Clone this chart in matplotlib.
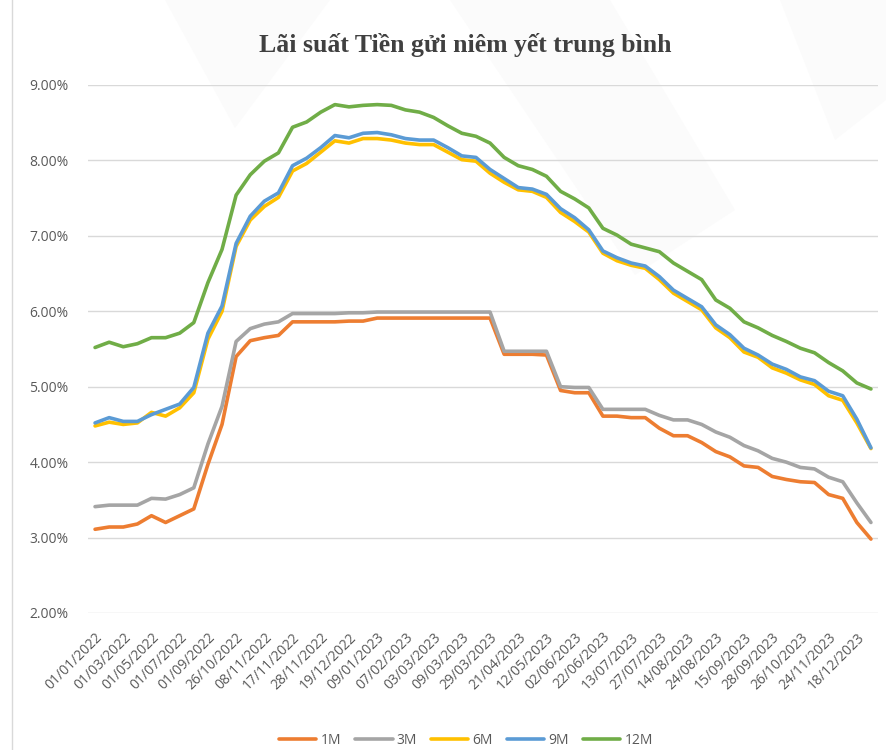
import numpy as np
import matplotlib.pyplot as plt
from matplotlib.ticker import PercentFormatter
from matplotlib.patches import Polygon

# Nhãn trục X (chỉ hiện mỗi 2 điểm dữ liệu)
tick_labels = ["01/01/2022", "01/03/2022", "01/05/2022", "01/07/2022", "01/09/2022",
               "26/10/2022", "08/11/2022", "17/11/2022", "28/11/2022", "19/12/2022",
               "09/01/2023", "07/02/2023", "03/03/2023", "09/03/2023", "29/03/2023",
               "21/04/2023", "12/05/2023", "02/06/2023", "22/06/2023", "13/07/2023",
               "27/07/2023", "14/08/2023", "24/08/2023", "15/09/2023", "28/09/2023",
               "26/10/2023", "24/11/2023", "18/12/2023"]

# Lãi suất (%)
r1m = [3.11, 3.14, 3.14, 3.18, 3.29, 3.20, 3.29, 3.38, 3.97, 4.50,
       5.40, 5.61, 5.65, 5.68, 5.86, 5.86, 5.86, 5.86, 5.87, 5.87,
       5.91, 5.91, 5.91, 5.91, 5.91, 5.91, 5.91, 5.91, 5.91, 5.43,
       5.43, 5.43, 5.42, 4.95, 4.92, 4.92, 4.61, 4.61, 4.59, 4.59,
       4.45, 4.35, 4.35, 4.26, 4.14, 4.07, 3.95, 3.93, 3.81, 3.77,
       3.74, 3.73, 3.57, 3.52, 3.20, 2.98]
r3m = [3.41, 3.43, 3.43, 3.43, 3.52, 3.51, 3.57, 3.66, 4.24, 4.74,
       5.60, 5.77, 5.83, 5.86, 5.97, 5.97, 5.97, 5.97, 5.98, 5.98,
       5.99, 5.99, 5.99, 5.99, 5.99, 5.99, 5.99, 5.99, 5.99, 5.47,
       5.47, 5.47, 5.47, 5.00, 4.99, 4.99, 4.70, 4.70, 4.70, 4.70,
       4.62, 4.56, 4.56, 4.50, 4.40, 4.33, 4.22, 4.15, 4.05, 4.00,
       3.93, 3.91, 3.80, 3.74, 3.46, 3.20]
r6m = [4.48, 4.53, 4.50, 4.52, 4.66, 4.61, 4.72, 4.92, 5.63, 6.00,
       6.86, 7.21, 7.39, 7.51, 7.86, 7.96, 8.11, 8.26, 8.23, 8.29,
       8.29, 8.27, 8.23, 8.21, 8.21, 8.11, 8.01, 7.99, 7.83, 7.71,
       7.61, 7.59, 7.51, 7.31, 7.19, 7.05, 6.77, 6.67, 6.61, 6.57,
       6.42, 6.24, 6.13, 6.02, 5.78, 5.65, 5.46, 5.39, 5.25, 5.18,
       5.09, 5.03, 4.88, 4.82, 4.52, 4.18]
r9m = [4.52, 4.59, 4.54, 4.54, 4.63, 4.70, 4.77, 4.99, 5.71, 6.07,
       6.90, 7.26, 7.46, 7.57, 7.93, 8.03, 8.17, 8.33, 8.30, 8.36,
       8.37, 8.34, 8.29, 8.27, 8.27, 8.17, 8.06, 8.04, 7.88, 7.76,
       7.64, 7.62, 7.55, 7.36, 7.24, 7.08, 6.80, 6.71, 6.64, 6.60,
       6.46, 6.28, 6.17, 6.06, 5.82, 5.69, 5.51, 5.42, 5.30, 5.23,
       5.13, 5.08, 4.94, 4.88, 4.57, 4.19]
r12m = [5.52, 5.59, 5.53, 5.57, 5.65, 5.65, 5.71, 5.85, 6.38, 6.82,
        7.54, 7.81, 7.99, 8.10, 8.44, 8.51, 8.64, 8.74, 8.71, 8.73,
        8.74, 8.73, 8.67, 8.64, 8.57, 8.46, 8.36, 8.32, 8.23, 8.04,
        7.93, 7.88, 7.79, 7.59, 7.49, 7.37, 7.10, 7.01, 6.89, 6.84,
        6.79, 6.64, 6.53, 6.42, 6.15, 6.04, 5.86, 5.78, 5.68, 5.60,
        5.51, 5.45, 5.32, 5.21, 5.05, 4.97]

series = ["1M", "3M", "6M", "9M", "12M"]
colors = ["#ED7D31", "#A5A5A5", "#FFC000", "#5B9BD5", "#70AD47"]

plt.rcParams['font.family'] = ['Open Sans', 'DejaVu Sans']

W, H = 886, 750
fig = plt.figure(figsize=(W / 100, H / 100), dpi=100)

# nền: hình mờ + viền trái
bg = fig.add_axes([0, 0, 1, 1], zorder=-1)
bg.set_xlim(0, W)
bg.set_ylim(H, 0)
bg.axis("off")
for pts in [[(165, 0), (330, 0), (235, 128)],
            [(450, 0), (610, 0), (735, 210), (635, 275)],
            [(780, 0), (886, 0), (886, 100), (835, 140)]]:
    bg.add_patch(Polygon(pts, closed=True, facecolor="#fbfbfb", edgecolor="none"))
bg.plot([12, 12], [0, H], color="#d9d9d9", lw=1)

ax = fig.add_axes([88 / W, 1 - 613 / H, 790 / W, 528 / H])
ax.patch.set_alpha(0)

x = np.arange(len(r1m))
for vals, name, c in zip([r1m, r3m, r6m, r9m, r12m], series, colors):
    ax.plot(x, vals, color=c, lw=2.6, label=name, solid_capstyle="round")

ax.set_xlim(-0.5, len(x) - 0.5)
ax.set_ylim(2, 9)
ax.set_yticks(np.arange(2, 9.01, 1))
ax.yaxis.set_major_formatter(PercentFormatter(xmax=100, decimals=2))
ax.set_xticks(x[::2])
ax.set_xticklabels(tick_labels, rotation=45, ha="right", rotation_mode="anchor")

ax.grid(axis="y", color="#d9d9d9", lw=1)
ax.set_axisbelow(True)
for s in ax.spines.values():
    s.set_visible(False)
ax.tick_params(axis="both", length=0, labelsize=10, labelcolor="#595959")
ax.tick_params(axis="y", pad=14)
ax.tick_params(axis="x", pad=12)

fig.text(465 / W, 1 - 45 / H, "Lãi suất Tiền gửi niêm yết trung bình", ha="center", va="center",
         fontsize=18.5, fontweight="bold", family="Liberation Serif", color="#404040")

fig.legend(loc="center", bbox_to_anchor=(466 / W, 1 - 740 / H), ncol=5, frameon=False,
           fontsize=10, labelcolor="#595959", handlelength=2.7, columnspacing=1.0,
           handletextpad=0.3)

fig.savefig("out.png", dpi=100)
